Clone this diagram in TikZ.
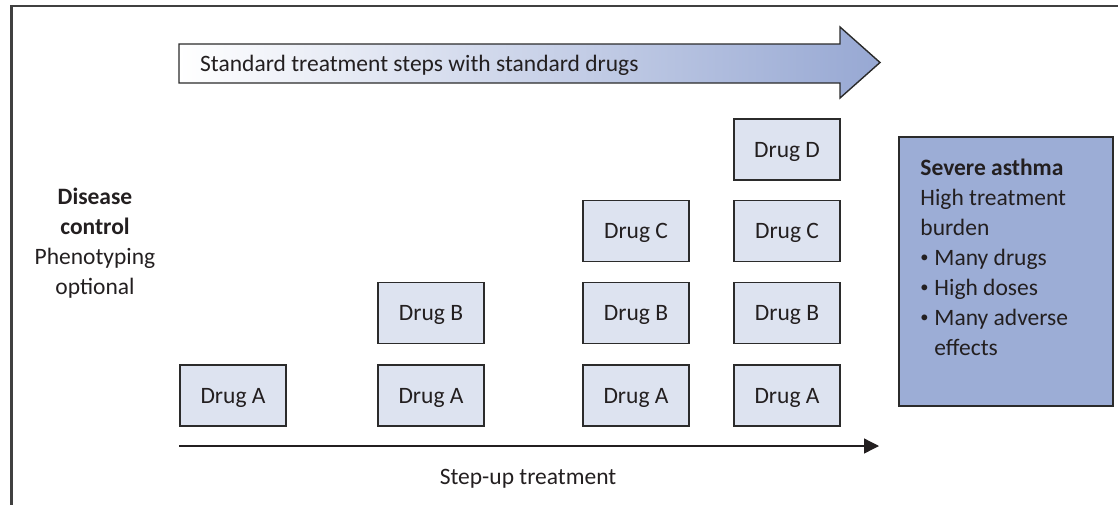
\documentclass[tikz,border=0pt]{standalone}
\usepackage{fontspec}
\setmainfont{Carlito}
\usetikzlibrary{arrows.meta,positioning}
\definecolor{SAInk}{HTML}{231F20}
\definecolor{SAEdge}{HTML}{2B2B2B}
\definecolor{SADrug}{HTML}{DDE3F0}
\definecolor{SABlue}{HTML}{9CADD6}
\definecolor{SAArrow}{HTML}{97A8D3}
\newcommand{\sadot}{\raisebox{.15em}{\scalebox{.7}{\textbullet}}\hspace{.25em}}
\tikzset{
  frame/.style={draw=SAEdge!90,line width=2.2pt},
  drugbox/.style={draw=SAEdge,line width=1.6pt,fill=SADrug,text=SAInk,
                  minimum width=106pt,minimum height=61pt,inner sep=0pt,
                  text height=17pt,text depth=2pt,
                  font=\fontsize{23.5}{28}\selectfont},
  severebox/.style={draw=SAEdge,line width=1.6pt,fill=SABlue,
                    minimum width=214pt,minimum height=269pt,inner sep=0pt},
  bodytext/.style={text=SAInk,font=\fontsize{23.5}{30}\selectfont,inner sep=0pt},
  stepaxis/.style={-{Triangle[length=15pt,width=15pt]},SAInk,line width=1.3pt},
}
\begin{document}
\begin{tikzpicture}[x=1pt,y=-1pt]
    \useasboundingbox (0,0) rectangle (1118,504);
    % outer frame (only top and left edge are visible)
    \draw[frame] (11.5,510) -- (11.5,6) -- (1125,6);

    % --- standard treatment arrow ---
    \shade[left color=white,right color=SAArrow,draw=SAEdge,line width=1.4pt]
      (179,44) -- (840,44) -- (840,27) -- (880,62.5) -- (840,98) -- (840,83)
      -- (179,83) -- cycle;
    \node[bodytext,anchor=west] (stdlabel) at (200,65)
      {Standard treatment steps with standard drugs};

    % --- drug steps ---
    \node[drugbox] (a1) at (233,395.5) {Drug A};
    \node[drugbox] (a2) at (431,395.5) {Drug A};
    \node[drugbox] (b2) at (431,313) {Drug B};
    \node[drugbox] (a3) at (636,395.5) {Drug A};
    \node[drugbox] (b3) at (636,313) {Drug B};
    \node[drugbox] (c3) at (636,231) {Drug C};
    \node[drugbox] (a4) at (787,395.5) {Drug A};
    \node[drugbox] (b4) at (787,313) {Drug B};
    \node[drugbox] (c4) at (787,231) {Drug C};
    \node[drugbox] (d4) at (787,149.5) {Drug D};

    % --- left label ---
    \node[bodytext,align=center] (control) at (95,243)
      {\textbf{Disease}\\\textbf{control}\\Phenotyping\\optional};

    % --- severe asthma ---
    \node[severebox] (severe) at (1006,271.5) {};
    \node[bodytext,align=left,anchor=north west] (severetext)
      at ([xshift=22pt,yshift=-23pt]severe.north west)
      {\textbf{Severe asthma}\\High treatment\\burden\\
       \sadot Many drugs\\\sadot High doses\\
       \sadot Many adverse\\\phantom{\sadot}effects};

    % --- step-up axis ---
    \coordinate (axstart) at (179,446);
    \coordinate (axend) at (879,446);
    \draw[stepaxis] (axstart) -- (axend);
    \node[bodytext] (steplabel) at (528,479) {Step-up treatment};
\end{tikzpicture}
\end{document}
